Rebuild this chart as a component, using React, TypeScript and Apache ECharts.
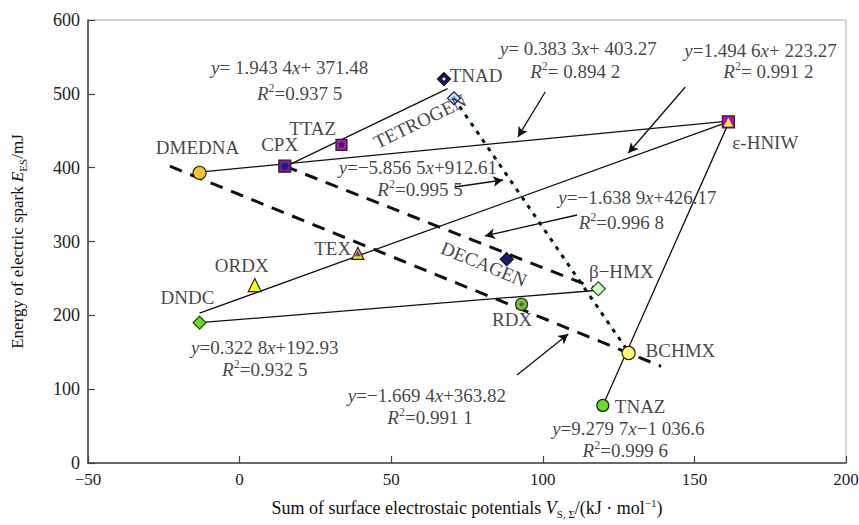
import React, { useEffect, useRef } from "react";
import * as echarts from "echarts";

// ---------- data ----------
const compounds = ["DMEDNA", "CPX", "TTAZ", "TNAD", "TETROGEN", "ε-HNIW", "ORDX", "TEX", "DNDC", "DECAGEN", "β−HMX", "RDX", "BCHMX", "TNAZ"];
const vsSum = [-13.2, 14.9, 33.6, 67.4, 70.7, 161.2, 5.0, 39.0, -13.2, 88.1, 118.3, 93.0, 128.3, 119.8];
const sparkEnergy = [393, 402, 431, 520, 494, 462, 241, 284, 190, 276, 236, 215, 149, 78];

const xTicks = [-50, 0, 50, 100, 150, 200];
const yTicks = [0, 100, 200, 300, 400, 500, 600];

// fitted lines (end points as drawn)
const fitA = [[-13.2, 394], [161.2, 463]]; // y=0.3833x+403.27
const fitB = [[14.9, 401], [68.6, 507]]; // y=1.9434x+371.48
const fitC = [[-13.2, 203], [161.2, 462]]; // y=1.4946x+223.27
const fitD = [[-13.2, 190], [118.3, 234]]; // y=0.3228x+192.93
const fitE = [[119.8, 78], [161.2, 460]]; // y=9.2797x-1036.6
const fitDash1 = [[14.9, 402], [118.3, 235]]; // y=-1.6389x+426.17
const fitDash2 = [[-23, 402], [139, 131]]; // y=-1.6694x+363.82
const fitDot = [[70.7, 494], [128.3, 150]]; // y=-5.8565x+912.61

// ---------- annotation layout ----------
const FONT = "'Liberation Serif', 'DejaVu Serif', serif";

const markerStyle: Record<string, any> = {
  DMEDNA: { symbol: "circle", size: 13, color: "#f2c230", border: "#222" },
  CPX: { symbol: "rect", size: 12, color: "#7a1a9a", border: "#222" },
  TTAZ: { symbol: "rect", size: 11, color: "#a21cb0", border: "#222" },
  TNAD: { symbol: "diamond", size: 13, color: "#16165e", border: "#111" },
  TETROGEN: { symbol: "diamond", size: 13, color: "#d8ecff", border: "#16165e" },
  "ε-HNIW": { symbol: "rect", size: 12, color: "#c400d0", border: "#222" },
  ORDX: { symbol: "triangle", size: 13, color: "#ffff10", border: "#222" },
  TEX: { symbol: "triangle", size: 12, color: "#e8e020", border: "#222" },
  DNDC: { symbol: "diamond", size: 13, color: "#66dd22", border: "#2a4a10" },
  DECAGEN: { symbol: "diamond", size: 13, color: "#1a1a7a", border: "#111" },
  "β−HMX": { symbol: "diamond", size: 14, color: "#d6ffd0", border: "#1f5a10" },
  RDX: { symbol: "circle", size: 12, color: "#66cc22", border: "#333" },
  BCHMX: { symbol: "circle", size: 13, color: "#ffff70", border: "#222" },
  TNAZ: { symbol: "circle", size: 12, color: "#66dd22", border: "#222" },
};

const overlays: Record<string, any> = {
  CPX: { symbol: "circle", size: 7, color: "#1c1c80" },
  TTAZ: { symbol: "circle", size: 5, color: "#3a0a50" },
  TNAD: { symbol: "circle", size: 3, color: "#ffffff" },
  TETROGEN: { symbol: "diamond", size: 6, color: "#6aa8e8" },
  "ε-HNIW": { symbol: "triangle", size: 9, color: "#ffff20" },
  TEX: { symbol: "triangle", size: 6, color: "#8a2a9a" },
  RDX: { symbol: "circle", size: 4, color: "#8a2a9a" },
};

const textLabels = [
  { t: "TNAD", x: 78, y: 525.5 },
  { t: "TTAZ", x: 24.1, y: 453.7 },
  { t: "TETROGEN", x: 59.5, y: 463, r: 26 },
  { t: "DMEDNA", x: -13.9, y: 426.7 },
  { t: "CPX", x: 13.2, y: 430.7 },
  { t: "ε-HNIW", x: 173.4, y: 433.5 },
  { t: "TEX", x: 30.7, y: 291 },
  { t: "ORDX", x: 0.7, y: 268 },
  { t: "DNDC", x: -17.2, y: 223.5 },
  { t: "DECAGEN", x: 80.6, y: 269.4, r: -22 },
  { t: "β−HMX", x: 125.9, y: 258.7 },
  { t: "RDX", x: 89.9, y: 193.7 },
  { t: "BCHMX", x: 145.4, y: 153 },
  { t: "TNAZ", x: 132.1, y: 77.2 },
  { t: "{i|y}= 1.943 4{i|x}+ 371.48", x: 16.5, y: 535 },
  { t: "{i|R}{sup|2}=0.937 5", x: 19.8, y: 501 },
  { t: "{i|y}= 0.383 3{i|x}+ 403.27", x: 111.7, y: 562 },
  { t: "{i|R}{sup|2}= 0.894 2", x: 110.7, y: 529.6 },
  { t: "{i|y}=1.494 6{i|x}+ 223.27", x: 171.8, y: 559 },
  { t: "{i|R}{sup|2}= 0.991 2", x: 174.4, y: 529.6 },
  { t: "{i|y}=−5.856 5{i|x}+912.61", x: 58.8, y: 399.6 },
  { t: "{i|R}{sup|2}=0.995 5", x: 59.5, y: 369.8 },
  { t: "{i|y}=−1.638 9{i|x}+426.17", x: 131.2, y: 359 },
  { t: "{i|R}{sup|2}=0.996 8", x: 125.9, y: 326.4 },
  { t: "{i|y}=0.322 8{i|x}+192.93", x: 8.3, y: 157 },
  { t: "{i|R}{sup|2}=0.932 5", x: 8.3, y: 126 },
  { t: "{i|y}=−1.669 4{i|x}+363.82", x: 61.8, y: 92 },
  { t: "{i|R}{sup|2}=0.991 1", x: 62.8, y: 62.3 },
  { t: "{i|y}=9.279 7{i|x}−1 036.6", x: 128.2, y: 47.4 },
  { t: "{i|R}{sup|2}=0.999 6", x: 127.2, y: 17.6 },
];

const arrows = [
  [[71.0, 373.8], [86.9, 383.3]],
  [[100.8, 502.5], [91.8, 441.6]],
  [[147.0, 509.3], [128.2, 419.9]],
  [[111.3, 335.9], [80.9, 307.5]],
  [[91.5, 119.2], [108.4, 174.7]],
];

function makeRich(size: number) {
  return {
    i: { fontStyle: "italic", fontFamily: FONT, fontSize: size, color: "#111", lineHeight: size + 4 },
    sup: { fontFamily: FONT, fontSize: Math.round(size * 0.62), color: "#111", verticalAlign: "top", lineHeight: size + 4, padding: [0, 0, 7, 0] },
    sub: { fontFamily: FONT, fontSize: Math.round(size * 0.62), color: "#111", verticalAlign: "bottom", lineHeight: size + 4, padding: [7, 0, 0, 0] },
  };
}

function lineSeries(data: number[][], style: any) {
  return {
    type: "line",
    data,
    symbol: "none",
    silent: true,
    lineStyle: style,
    z: 2,
  };
}

export default function App() {
  const ref = useRef<HTMLDivElement>(null);
  useEffect(() => {
    if (!ref.current) return;
    const chart = echarts.init(ref.current, undefined, { renderer: "svg" });
    const minus = (v: number) => String(v).replace("-", "−");
    const solid = { color: "#111", width: 1.3, type: "solid" };
    const option: any = {
      animation: false,
      backgroundColor: "#fff",
      grid: {
        left: 88, right: 13, top: 20, bottom: 62,
        show: true, borderColor: "#a8a8a8", borderWidth: 1,
        containLabel: false, outerBoundsMode: "none",
      },
      xAxis: {
        type: "value",
        min: xTicks[0],
        max: xTicks[xTicks.length - 1],
        interval: 50,
        name: "Sum of surface electrostaic potentials {i|V}{sub|S, Σ}/(kJ · mol{sup|−1})",
        nameLocation: "middle",
        nameGap: 34,
        nameTextStyle: { fontFamily: FONT, fontSize: 18, color: "#111", rich: makeRich(18) },
        axisLine: { show: true, onZero: false, lineStyle: { color: "#444", width: 1.5 } },
        axisTick: { show: true, inside: true, length: 7, lineStyle: { color: "#444", width: 1.2 } },
        axisLabel: { fontFamily: FONT, fontSize: 17, color: "#222", margin: 8, formatter: minus },
        splitLine: { show: false },
      },
      yAxis: {
        type: "value",
        min: yTicks[0],
        max: yTicks[yTicks.length - 1],
        interval: 100,
        name: "Energy of electric spark {i|E}{sub|ES}/mJ",
        nameLocation: "middle",
        nameGap: 60,
        nameTextStyle: { fontFamily: FONT, fontSize: 17, color: "#111", rich: makeRich(17) },
        axisLine: { show: true, onZero: false, lineStyle: { color: "#444", width: 1.5 } },
        axisTick: { show: true, inside: true, length: 7, lineStyle: { color: "#444", width: 1.2 } },
        axisLabel: { fontFamily: FONT, fontSize: 18, color: "#222", margin: 8 },
        splitLine: { show: false },
      },
      series: [
        lineSeries(fitDot, { color: "#a8eef4", width: 1, type: "solid" }),
        lineSeries(fitA, solid),
        lineSeries(fitB, solid),
        lineSeries(fitC, solid),
        lineSeries(fitD, solid),
        lineSeries(fitE, solid),
        lineSeries(fitDash1, { color: "#111", width: 3, type: [13, 9] }),
        lineSeries(fitDash2, { color: "#111", width: 3, type: [13, 9] }),
        lineSeries(fitDot, { color: "#111", width: 3, type: [4, 6] }),
        {
          type: "line",
          data: [],
          silent: true,
          markLine: {
            silent: true,
            animation: false,
            symbol: ["none", "arrow"],
            symbolSize: [8, 10],
            lineStyle: { color: "#111", width: 1.3, type: "solid" },
            label: { show: false },
            emphasis: { disabled: true },
            data: arrows.map((a) => [{ coord: a[0] }, { coord: a[1] }]),
          },
        },
        {
          type: "scatter",
          silent: true,
          z: 5,
          data: compounds.map((n, i) => {
            const s = markerStyle[n];
            return {
              name: n,
              value: [vsSum[i], sparkEnergy[i]],
              symbol: s.symbol,
              symbolSize: s.size,
              itemStyle: { color: s.color, borderColor: s.border, borderWidth: 1.2, opacity: 1 },
            };
          }),
        },
        {
          type: "scatter",
          silent: true,
          z: 6,
          data: compounds
            .map((n, i) => ({ n, i }))
            .filter((o) => overlays[o.n])
            .map((o) => {
              const s = overlays[o.n];
              return {
                value: [vsSum[o.i], sparkEnergy[o.i]],
                symbol: s.symbol,
                symbolSize: s.size,
                itemStyle: { color: s.color, opacity: 1 },
              };
            }),
        },
        {
          type: "scatter",
          silent: true,
          z: 7,
          symbolSize: 1,
          itemStyle: { color: "rgba(0,0,0,0)" },
          label: {
            show: true,
            position: "inside",
            fontFamily: FONT,
            fontSize: 19,
            color: "#111",
            rich: makeRich(19),
          },
          labelLayout: { hideOverlap: false },
          data: textLabels.map((l) => ({
            value: [l.x, l.y],
            label: { formatter: l.t, rotate: l.r || 0 },
          })),
        },
      ],
    };
    chart.setOption(option);
    return () => chart.dispose();
  }, []);
  return <div ref={ref} style={{ width: 859, height: 525, position: "absolute", left: 0, top: 0 }} />;
}
